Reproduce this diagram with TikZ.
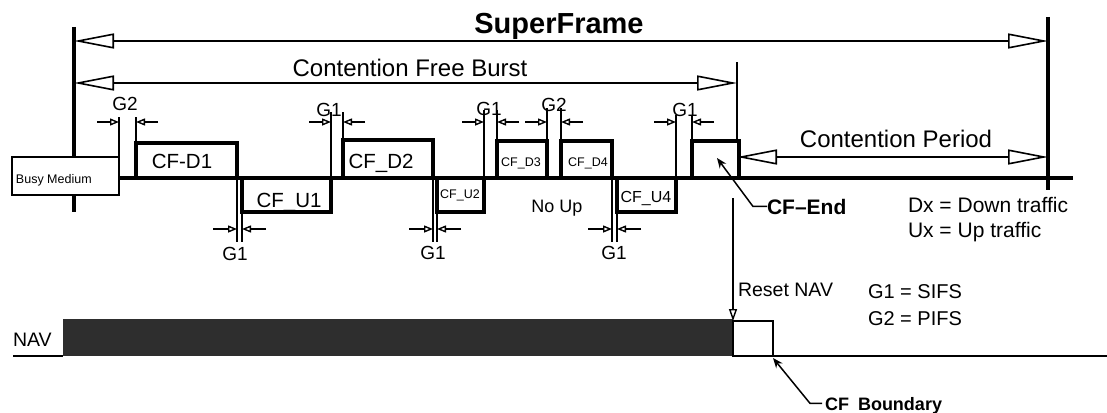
\documentclass[tikz,border=0pt]{standalone}
\usepackage{fontspec}
\setmainfont{Liberation Sans}
\usetikzlibrary{arrows.meta}
\newcommand\myfsz[1]{\fontsize{#1pt}{#1pt}\selectfont}
\begin{document}
\begin{tikzpicture}[x=1pt,y=-1pt,
  txt/.style={inner sep=0pt, outer sep=0pt},
  bigarrow/.style={line width=1.6pt,
    {Triangle[open,length=40pt,width=15pt]}-{Triangle[open,length=40pt,width=15pt]}},
  mainv/.style={line width=3.5pt},
  frame/.style={draw, line width=3.2pt, fill=white, inner sep=0pt, outer sep=0pt},
  gapv/.style={line width=1.7pt},
  gapa/.style={line width=1.4pt, -{Triangle[open,length=9pt,width=7pt]}},
  glab/.style={txt, font=\myfsz{19}},
  leader/.style={line width=1.5pt, -{Stealth[length=10pt,width=8pt]}},
]
\fill[white] (0,0) rectangle (1107,412);
\useasboundingbox (0,0) rectangle (1107,412);

% main vertical markers
\coordinate (lt) at (74,27);   \coordinate (lb) at (74,212);
\coordinate (rt) at (1048,17); \coordinate (rb) at (1048,190);
\coordinate (ct) at (737,62);  \coordinate (cb) at (737,180);
\draw[mainv] (lt) -- (lb);
\draw[line width=4pt] (rt) -- (rb);
\draw[line width=2pt] (ct) -- (cb);

% dimension arrows
\coordinate (sfl) at (74,41);  \coordinate (sfr) at (1048,41);
\coordinate (cfl) at (74,83);  \coordinate (cfr) at (737,83);
\coordinate (cpl) at (737,157); \coordinate (cpr) at (1048,157);
\draw[bigarrow] (sfl) -- (sfr);
\draw[bigarrow] (cfl) -- (cfr);
\draw[bigarrow] (cpl) -- (cpr);
\node[txt, anchor=base, font=\bfseries\myfsz{29}] (sf) at (559,34) {SuperFrame};
\node[txt, anchor=base, font=\myfsz{24}] (cfbtxt) at (410,77) {Contention Free Burst};
\node[txt, anchor=base, font=\myfsz{24}] (cptxt) at (896,147) {Contention Period};

% busy medium
\node[draw, line width=1.2pt, fill=white, inner sep=0pt, outer sep=0pt,
      minimum width=107pt, minimum height=38pt, anchor=north west] (bm) at (12,157) {};
\node[txt, anchor=base west, font=\myfsz{12.5}] (bmtxt) at (16,183) {Busy Medium};

% frames
\node[frame, minimum width=101pt, minimum height=35pt, anchor=south west] (d1) at (136,178) {};
\node[frame, minimum width=89pt,  minimum height=34pt, anchor=north west] (u1) at (242,178) {};
\node[frame, minimum width=90pt,  minimum height=38pt, anchor=south west] (d2) at (343,178) {};
\node[frame, minimum width=47pt,  minimum height=34pt, anchor=north west] (u2) at (437,178) {};
\node[frame, minimum width=50pt,  minimum height=37pt, anchor=south west] (d3) at (497,178) {};
\node[frame, minimum width=51pt,  minimum height=37pt, anchor=south west] (d4) at (561,178) {};
\node[frame, minimum width=59pt,  minimum height=34pt, anchor=north west] (u4) at (617,178) {};
\node[frame, minimum width=47pt,  minimum height=37pt, anchor=south west] (cfe) at (692,178) {};

\node[txt, anchor=base, font=\myfsz{20.5}] (td1) at (182,168) {CF-D1};
\node[txt, anchor=base, font=\myfsz{20.5}] (tu1) at (289,207) {CF\_U1};
\node[txt, anchor=base, font=\myfsz{20.5}] (td2) at (381,168) {CF\_D2};
\node[txt, anchor=base, font=\myfsz{12.5}] (tu2) at (460,198) {CF\_U2};
\node[txt, anchor=base, font=\myfsz{12.5}] (td3) at (521,166) {CF\_D3};
\node[txt, anchor=base, font=\myfsz{12.5}] (td4) at (588,166) {CF\_D4};
\node[txt, anchor=base, font=\myfsz{16}] (tu4) at (646,202) {CF\_U4};

% gap markers, top
\foreach \xa/\xb/\yt/\lab/\lx/\ly/\n in
  {119/136/117/G2/125/110/a, 331/343/112/G1/329/116/b, 484/497/110/G1/489/115/c,
   547/561/108/G2/554/111/d, 676/692/115/G1/685/116/e}{
  \draw[gapv] (\xa,178) -- (\xa,\yt);
  \draw[gapv] (\xb,178) -- (\xb,\yt);
  \draw[gapa] (\xa-22,122) -- (\xa,122);
  \draw[gapa] (\xb+22,122) -- (\xb,122);
  \node[glab, anchor=base] (gt\n) at (\lx,\ly) {\lab};
}
% gap markers, bottom
\foreach \xa/\xb/\lx/\ly/\n in {237/242/235/260/a, 433/437/433/259/b, 612/617/614/259/c}{
  \draw[gapv] (\xa,178) -- (\xa,242);
  \draw[gapv] (\xb,178) -- (\xb,242);
  \draw[gapa] (\xa-24,229) -- (\xa,229);
  \draw[gapa] (\xb+24,229) -- (\xb,229);
  \node[glab, anchor=base] (gb\n) at (\lx,\ly) {G1};
}

% medium baseline
\coordinate (mend) at (1073,178);
\draw[line width=4.5pt] (bm.east |- mend) -- (mend);

\node[txt, anchor=base, font=\myfsz{18}] (noup) at (557,212) {No Up};

% CF-End
\coordinate (cfetip) at (717,158);
\node[txt, anchor=base west, font=\bfseries\myfsz{21}] (cfend) at (767,214) {CF–End};
\draw[leader] (cfend.west) -- ++(-14,0) -- (cfetip);

\node[txt, anchor=base west, font=\myfsz{21}] (dx) at (908,212) {Dx = Down traffic};
\node[txt, anchor=base west, font=\myfsz{21}] (ux) at (908,237) {Ux = Up traffic};

% NAV
\node[txt, anchor=base west, font=\myfsz{19.5}] (nav) at (13,346) {NAV};
\fill[black!82] (63,319) rectangle (733,356);
\node[draw, line width=1.5pt, fill=white, inner sep=0pt, outer sep=0pt,
      minimum width=40pt, minimum height=35pt, anchor=north west] (nbox) at (733,321) {};
\draw[line width=1.8pt] (13,356) -- (63,356);
\coordinate (nend) at (1107,356);
\draw[line width=1.5pt] (nbox.south east) -- (nend);

\coordinate (rtop) at (733,198);
\draw[line width=1.4pt, -{Triangle[open,length=12pt,width=8pt]}] (rtop) -- (nbox.north west);
\node[txt, anchor=base west, font=\myfsz{19.5}] (reset) at (738,296) {Reset NAV};
\node[txt, anchor=base west, font=\myfsz{20}] (g1s) at (868,298) {G1 = SIFS};
\node[txt, anchor=base west, font=\myfsz{20}] (g2p) at (868,325) {G2 = PIFS};

\node[txt, anchor=base west, font=\bfseries\myfsz{18}] (cfb) at (825,410) {CF\hspace{0.5em}Boundary};
\coordinate (cfbtip) at (773,358);
\draw[leader] ([xshift=-3pt,yshift=2pt]cfb.west) -- ++(-12,0) -- (cfbtip);
\end{tikzpicture}
\end{document}
